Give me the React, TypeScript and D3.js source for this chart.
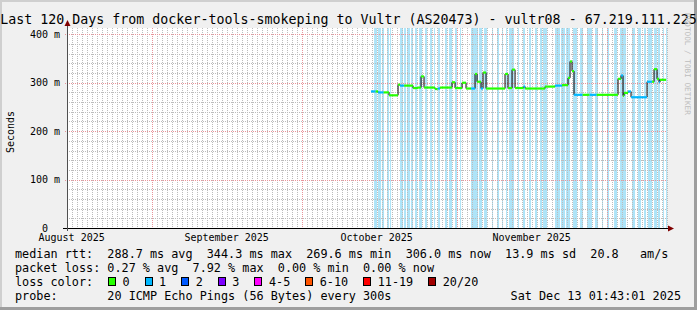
import React from "react";
import * as d3 from "d3";

const W = 697;
const H = 310;
const FONT = '"DejaVu Sans Mono", monospace';

const TITLE = "Last 120 Days from docker-tools-smokeping to Vultr (AS20473) - vultr08 - 67.219.111.225";
const Y_LABEL = "Seconds";
const WATERMARK = "RRDTOOL / TOBI OETIKER";

const rangeStart = "2025-08-15T01:43:01Z";
const rangeEnd = "2025-12-13T01:43:01Z";
const dayBase = "2025-10-01T00:00:00Z"; // day offsets below are days after this

const yMaxMs = 413;
const yTickValues = [0, 100, 200, 300, 400];
const yTickLabels = ["0  ", "100 m", "200 m", "300 m", "400 m"];
const monthLabelFormat = "%B %Y";

// median RTT (ms), step series: start day (after 1 Oct 2025), value, loss class
const medianDay = [13.88, 14.8, 15.28, 16.4, 17.48, 19.28, 19.68, 20.5, 22.28, 23.28, 23.88, 24.48, 26.68, 27.2, 27.68, 30.08, 30.68, 32.08, 32.88, 33.9, 34.68, 35.08, 35.88, 36.28, 36.88, 40.68, 41.28, 42.08, 42.68, 44.4, 44.7, 48.68, 50.68, 52.08, 53.28, 53.68, 54.08, 54.48, 56.2, 57.6, 59.0, 63.28, 63.88, 64.28, 64.48, 65.28, 65.88, 69.08, 70.1, 70.48, 71.08, 71.48, 71.68];
const medianMs = [282, 282, 280, 280, 274, 296, 294, 294, 289, 290, 313, 290, 287, 288, 290, 301, 289, 300, 288, 288, 318, 302, 288, 321, 288, 318, 289, 327, 289, 292, 288, 292, 294, 295, 310, 344, 324, 275, 275, 275, 275, 308, 315, 273, 279, 282, 270, 302, 302, 328, 308, 301, 306];
const medianLoss = [1, 0, 1, 0, 0, 0, 1, 0, 0, 0, 0, 0, 0, 1, 0, 0, 0, 0, 0, 1, 0, 0, 1, 0, 0, 0, 0, 0, 0, 1, 0, 0, 1, 0, 0, 0, 0, 1, 0, 1, 0, 0, 1, 0, 0, 1, 1, 1, 0, 0, 0, 1, 0];
const medianEndDay = 72.9;

// light blue vertical bands (days after 1 Oct 2025)
const stripeStartDay = [14.48, 15.28, 16.08, 17.08, 17.68, 19.68, 20.48, 21.08, 21.88, 22.68, 23.48, 24.68, 25.68, 26.48, 27.28, 28.68, 29.48, 30.68, 31.68, 33.88, 35.48, 36.48, 38.08, 39.08, 40.08, 40.88, 41.48, 43.28, 44.28, 45.48, 46.68, 47.68, 48.28, 50.68, 51.88, 52.88, 54.28, 55.68, 57.08, 58.68, 60.08, 61.08, 62.48, 63.68, 66.08, 67.28, 68.48, 69.28, 70.48, 71.28, 72.28, 72.88];
const stripeEndDay = [15.08, 15.88, 16.48, 17.48, 17.88, 20.28, 20.88, 21.68, 22.28, 23.08, 24.08, 25.08, 26.08, 26.68, 27.68, 29.08, 30.08, 31.08, 31.88, 35.28, 36.08, 37.08, 38.28, 39.48, 40.28, 41.08, 42.48, 43.48, 44.68, 45.88, 47.08, 48.08, 49.08, 51.68, 52.68, 53.68, 55.08, 56.28, 58.08, 59.28, 60.28, 61.48, 63.08, 64.88, 66.68, 67.88, 68.88, 70.08, 71.08, 71.68, 72.48, 73.08];

const lossLabels = ["0", "1", "2", "3", "4-5", "6-10", "11-19", "20/20"];
const lossColors = ["#26ff00", "#00b8ff", "#0059ff", "#7e00ff", "#ff00ff", "#ff5500", "#ff0000", "#a10000"];

const legendRtt = "median rtt:  288.7 ms avg  344.3 ms max  269.6 ms min  306.0 ms now  13.9 ms sd  20.8   am/s";
const legendLoss = "packet loss: 0.27 % avg  7.92 % max  0.00 % min  0.00 % now";
const legendLossColor = "loss color:";
const legendProbe = "probe:       20 ICMP Echo Pings (56 Bytes) every 300s";
const legendDate = "Sat Dec 13 01:43:01 2025";

const DAY = 86400000;

export default function App() {
  const t0 = new Date(rangeStart).getTime();
  const t1 = new Date(rangeEnd).getTime();
  const base = new Date(dayBase).getTime();
  const toDate = (d: number) => new Date(base + d * DAY);

  const left = 67, right = 667, top = 28, bottom = 228;
  const x = d3.scaleUtc().domain([new Date(t0), new Date(t1)]).range([left, right]);
  const y = d3.scaleLinear().domain([0, yMaxMs]).range([bottom, top]);
  const px = (v: number) => Math.round(v) + 0.5;

  const days = d3.utcDay.range(new Date(t0), new Date(t1));
  const months = d3.utcMonth.range(new Date(t0), new Date(t1));
  const labelMonths = d3.utcMonth.range(d3.utcMonth.floor(new Date(t0)), new Date(t1));
  const fmt = d3.utcFormat(monthLabelFormat);

  const minorY = d3.range(20, yMaxMs, 20).filter((v) => v % 100 !== 0);
  const majorY = yTickValues.filter((v) => v > 0);

  const pts = medianDay.map((d, i) => ({
    t: toDate(d),
    tEnd: toDate(i + 1 < medianDay.length ? medianDay[i + 1] : medianEndDay),
    v: medianMs[i],
    loss: medianLoss[i],
  }));

  const charW = 7.11;
  const legendFs = 11.8;
  const rowY = [258, 272, 286, 299.5];
  const lx = 15;

  const boxes: { bx: number; label: string; color: string }[] = [];
  let bx = 108;
  lossLabels.forEach((lab, i) => {
    boxes.push({ bx, label: lab, color: lossColors[i] });
    bx = bx + 14.5 + lab.length * charW + 15;
  });

  const minorStroke = "#bcbcbc";
  const majorStroke = "#e8949a";

  return (
    <svg
      width={W}
      height={H}
      style={{ position: "absolute", left: 0, top: 0, display: "block" }}
      fontFamily={FONT}
    >
      <rect x={0} y={0} width={W} height={H} fill="#f0f0f0" />
      <rect x={0} y={0} width={W} height={2} fill="#cfcfcf" />
      <rect x={0} y={0} width={2} height={H} fill="#cfcfcf" />
      <rect x={0} y={H - 3} width={W} height={3} fill="#9e9e9e" />
      <rect x={W - 3} y={0} width={3} height={H} fill="#9e9e9e" />

      <rect x={left} y={top} width={right - left} height={bottom - top} fill="#ffffff" />

      {stripeStartDay.map((s, i) => {
        const xa = x(toDate(s));
        const xb = Math.min(x(toDate(stripeEndDay[i])), right);
        return (
          <rect key={"s" + i} x={xa} y={top} width={Math.max(1, xb - xa)} height={bottom - top} fill="#aee4f8" />
        );
      })}

      <g shapeRendering="crispEdges">
        {days.map((d, i) => (
          <line key={"dx" + i} x1={px(x(d))} x2={px(x(d))} y1={top} y2={bottom} stroke={minorStroke} strokeDasharray="1 1" />
        ))}
        {minorY.map((v) => (
          <line key={"my" + v} x1={left} x2={right} y1={px(y(v))} y2={px(y(v))} stroke={minorStroke} strokeDasharray="1 1" />
        ))}
        {months.map((d, i) => (
          <line key={"Mx" + i} x1={px(x(d))} x2={px(x(d))} y1={top} y2={bottom + 2} stroke={majorStroke} strokeDasharray="1 1" />
        ))}
        {majorY.map((v) => (
          <line key={"My" + v} x1={left - 2} x2={right} y1={px(y(v))} y2={px(y(v))} stroke={majorStroke} strokeDasharray="1 1" />
        ))}
      </g>

      <g>
        {pts.map((p, i) =>
          i + 1 < pts.length ? (
            <line key={"v" + i} x1={x(p.tEnd)} x2={x(p.tEnd)} y1={y(p.v)} y2={y(pts[i + 1].v)} stroke="#000" strokeWidth={1} />
          ) : null
        )}
        {pts.map((p, i) => (
          <line key={"h" + i} x1={x(p.t)} x2={x(p.tEnd)} y1={y(p.v)} y2={y(p.v)} stroke={lossColors[p.loss]} strokeWidth={2.2} />
        ))}
      </g>

      <g shapeRendering="crispEdges">
        <line x1={left - 4} x2={right + 2} y1={px(bottom)} y2={px(bottom)} stroke="#000" />
        <line x1={px(left)} x2={px(left)} y1={bottom + 3} y2={top - 3} stroke="#505050" />
      </g>
      <path d={`M${right + 1},${bottom - 2.5}L${right + 7},${bottom + 0.5}L${right + 1},${bottom + 3.5}Z`} fill="#7f0000" />
      <path d={`M${left - 2.5},${top - 2}L${left + 0.5},${top - 8}L${left + 3.5},${top - 2}Z`} fill="#7f0000" />

      {yTickValues.map((v, i) => (
        <text key={"yl" + v} x={60} y={y(v)} dy="0.35em" textAnchor="end" fontSize={10} fill="#000" xmlSpace="preserve">
          {yTickLabels[i]}
        </text>
      ))}

      {labelMonths.map((m, i) => {
        const c = x(d3.utcDay.offset(m, 15));
        if (c < left - 2 || c > right) return null;
        return (
          <text key={"ml" + i} x={c} y={241} textAnchor="middle" fontSize={10} fill="#000">
            {fmt(m)}
          </text>
        );
      })}

      <text x={W / 2} y={24} textAnchor="middle" fontSize={13.3} fill="#000">
        {TITLE}
      </text>
      <text transform={`translate(14,132) rotate(-90)`} textAnchor="middle" fontSize={10} fill="#000">
        {Y_LABEL}
      </text>
      <text transform={`translate(684.5,13) rotate(90)`} fontSize={7.7} fill="#bdbdbd">
        {WATERMARK}
      </text>

      <g fontSize={legendFs} fill="#000">
        <text x={lx} y={rowY[0]} xmlSpace="preserve">{legendRtt}</text>
        <text x={lx} y={rowY[1]} xmlSpace="preserve">{legendLoss}</text>
        <text x={lx} y={rowY[2]} xmlSpace="preserve">{legendLossColor}</text>
        {boxes.map((b, i) => (
          <g key={"lb" + i}>
            <rect x={b.bx + 0.5} y={277.5} width={7} height={8} fill={b.color} stroke="#000" strokeWidth={1} shapeRendering="crispEdges" />
            <text x={b.bx + 14.5} y={rowY[2]}>{b.label}</text>
          </g>
        ))}
        <text x={lx} y={rowY[3]} xmlSpace="preserve">{legendProbe}</text>
        <text x={681} y={rowY[3]} textAnchor="end">{legendDate}</text>
      </g>
    </svg>
  );
}
